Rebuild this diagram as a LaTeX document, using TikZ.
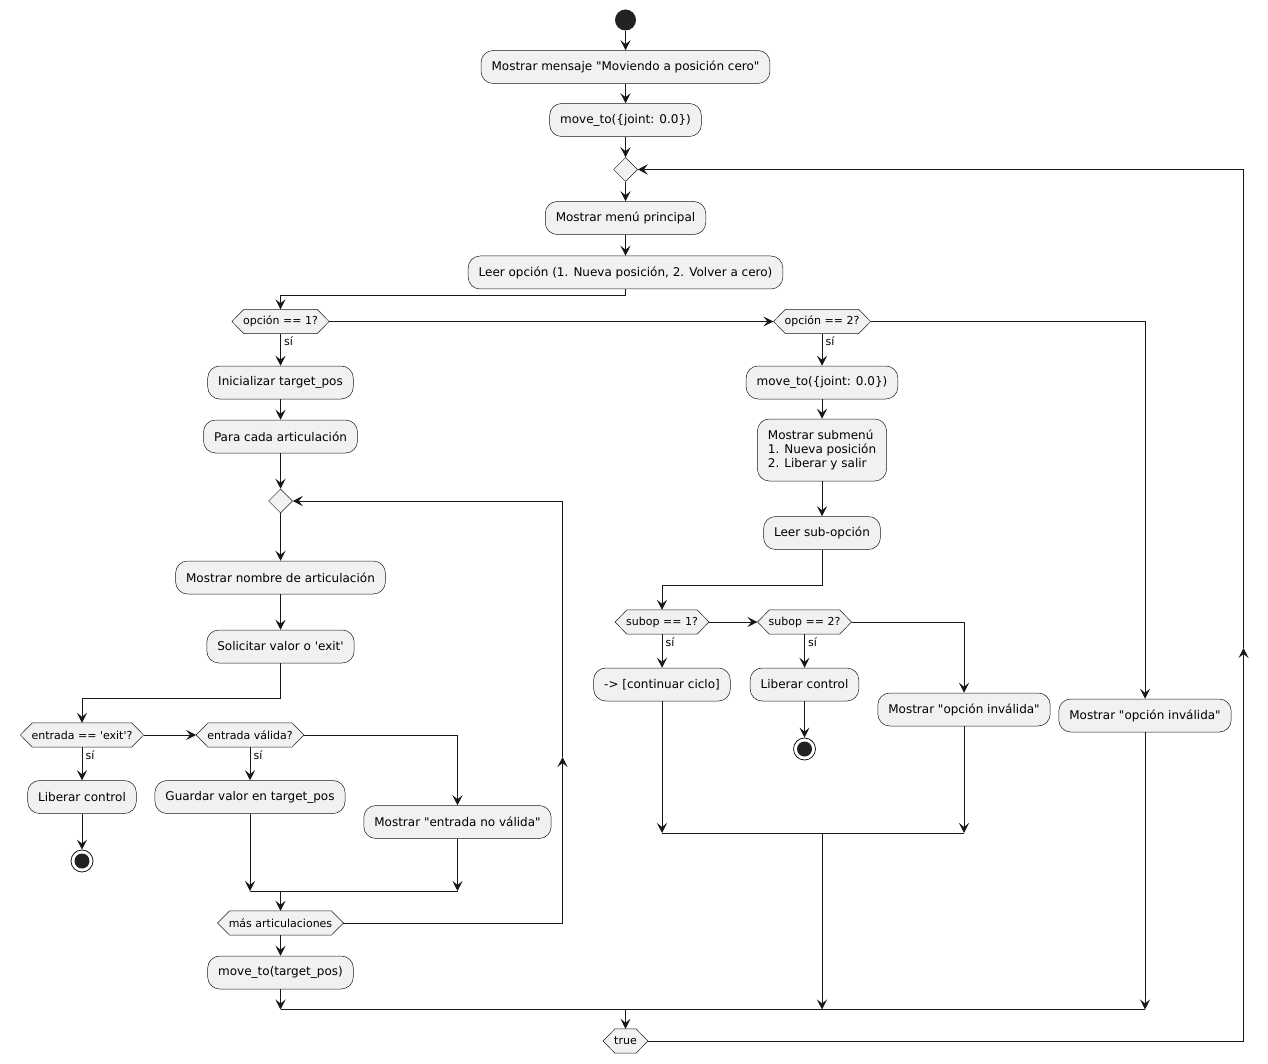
\documentclass[tikz,border=0pt]{standalone}
\usepackage{fontspec}
\setmainfont{DejaVu Sans}[Ligatures=TeXOff]
\usetikzlibrary{arrows.meta,shapes.geometric,backgrounds,calc}
\definecolor{boxfill}{HTML}{F1F1F1}
\definecolor{ink}{HTML}{181818}
\definecolor{dot}{HTML}{222222}
\tikzset{
 act/.style={draw=ink, line width=0.5pt, fill=boxfill, rounded corners=12pt, minimum height=33pt, inner xsep=10.5pt, inner ysep=2pt, font=\fontsize{12}{14}\selectfont},
 hexn/.style={minimum height=24pt, inner xsep=11pt, inner ysep=0pt, font=\fontsize{11}{13}\selectfont},
 hexline/.style={draw=ink, line width=0.5pt, fill=boxfill},
 merge/.style={diamond, draw=ink, line width=0.5pt, fill=boxfill, minimum width=24pt, minimum height=24pt, inner sep=0pt},
 stopn/.style={circle, draw=ink, line width=0.8pt, fill=white, minimum size=22pt, inner sep=0pt, path picture={\fill[dot] (path picture bounding box.center) circle (7.5pt);}},
 conn/.style={draw=ink, line width=1pt},
 arr/.style={conn, -{Stealth[length=10pt,width=10pt,inset=4pt]}},
 yes/.style={font=\fontsize{11}{13}\selectfont, anchor=west, inner sep=0pt},
}
\newcommand\hexpath[1]{\path[hexline] ([xshift=12pt]#1.north west) -- ([xshift=-12pt]#1.north east) -- (#1.east) -- ([xshift=-12pt]#1.south east) -- ([xshift=12pt]#1.south west) -- (#1.west) -- cycle;}
\begin{document}
\begin{tikzpicture}[x=1pt,y=-1pt]
\useasboundingbox (0,0) rectangle (1268,1064);
% nodes
\node[circle, fill=dot, minimum size=21pt, inner sep=0pt] (start) at (625.5,20) {};
\node[act] (b1) at (625.5,67) {Mostrar mensaje "Moviendo a posición cero"};
\node[act] (b2) at (625.5,120) {move\_to(\{joint: 0.0\})};
\node[merge] (d1) at (625.5,169.5) {};
\node[act] (b3) at (625.5,218) {Mostrar menú principal};
\node[act] (b4) at (625.5,272.5) {Leer opción (1. Nueva posición, 2. Volver a cero)};
\node[hexn] (h1) at (280.5,321.5) {opción == 1?};
\node[hexn] (h2) at (822,321.5) {opción == 2?};
\node[act] (i1) at (280.5,382.5) {Inicializar target\_pos};
\node[act] (i2) at (280.5,436.5) {Para cada articulación};
\node[merge] (d2) at (280.5,501) {};
\node[act] (i3) at (280.5,577.5) {Mostrar nombre de articulación};
\node[act] (i4) at (280.5,646.5) {Solicitar valor o 'exit'};
\node[hexn] (hx) at (82,735) {entrada == 'exit'?};
\node[hexn] (hv) at (250,735) {entrada válida?};
\node[act] (l1) at (82,797) {Liberar control};
\node[stopn] (s1) at (82,861) {};
\node[act] (gv) at (250,797) {Guardar valor en target\_pos};
\node[act] (nv) at (457.5,822) {Mostrar "entrada no válida"};
\node[hexn] (hm) at (280.5,923) {más articulaciones};
\node[act] (mt) at (280.5,972.5) {move\_to(target\_pos)};
\node[act] (r1) at (822,382.5) {move\_to(\{joint: 0.0\})};
\node[act, align=left, minimum height=62pt] (sm) at (822,450) {Mostrar submenú\\1. Nueva posición\\2. Liberar y salir};
\node[act] (ls) at (822,533) {Leer sub-opción};
\node[hexn] (q1) at (662,622) {subop == 1?};
\node[hexn] (q2) at (804.5,622) {subop == 2?};
\node[act] (ct) at (662,684.5) {-> [continuar ciclo]};
\node[act] (l2) at (804.5,684.5) {Liberar control};
\node[stopn] (s2) at (804.5,749) {};
\node[act] (v1) at (964,709.5) {Mostrar "opción inválida"};
\node[act] (v2) at (1145,715.5) {Mostrar "opción inválida"};
\node[hexn] (ht) at (625.5,1041) {true};
% hexagon outlines
\begin{scope}[on background layer]
\fill[white] (0,0) rectangle (1268,1064);
\hexpath{h1}\hexpath{h2}\hexpath{hx}\hexpath{hv}\hexpath{hm}\hexpath{q1}\hexpath{q2}\hexpath{ht}
\end{scope}
% labels
\node[yes] (y1) at ($(h1.south)+(3.5,7.5)$) {sí};
\node[yes] (y2) at ($(h2.south)+(3.5,7.5)$) {sí};
\node[yes] (y3) at ($(hx.south)+(3.5,7.5)$) {sí};
\node[yes] (y4) at ($(hv.south)+(3.5,7.5)$) {sí};
\node[yes] (y5) at ($(q1.south)+(3.5,7.5)$) {sí};
\node[yes] (y6) at ($(q2.south)+(3.5,7.5)$) {sí};
% coordinates
\coordinate (ma) at (250,891);
\coordinate (mb) at (457.5,891);
\coordinate (mc) at (280.5,891);
\coordinate (na) at (662,833);
\coordinate (nb) at (964,833);
\coordinate (nc) at (822,833);
\coordinate (ba) at (280.5,1009.5);
\coordinate (bb) at (822,1009.5);
\coordinate (bc) at (1145,1009.5);
\coordinate (bd) at (625.5,1009.5);
\coordinate (cl) at (562.5,757);
\coordinate (cr) at (1243.5,648);
% connectors main column
\draw[arr] (start) -- (b1);
\draw[arr] (b1) -- (b2);
\draw[arr] (b2) -- (d1);
\draw[arr] (d1) -- (b3);
\draw[arr] (b3) -- (b4);
\draw[arr] (b4.south) -- ++(0,6.5) -| (h1.north);
\draw[arr] (h1.east) -- (h2.west);
\draw[arr] (h2.east) -| (v2.north);
% left branch
\draw[arr] (h1.south) -- (i1.north);
\draw[arr] (i1) -- (i2);
\draw[arr] (i2) -- (d2);
\draw[arr] (d2) -- (i3);
\draw[arr] (i3) -- (i4);
\draw[arr] (i4.south) -- ++(0,35) -| (hx.north);
\draw[arr] (hx.east) -- (hv.west);
\draw[arr] (hv.east) -| (nv.north);
\draw[arr] (hx.south) -- (l1.north);
\draw[arr] (l1) -- (s1);
\draw[arr] (hv.south) -- (gv.north);
\draw[arr] (gv.south) -- (ma);
\draw[arr] (nv.south) -- (mb);
\draw[conn] (ma) -- (mb);
\draw[arr] (mc) -- (hm.north);
\draw[arr] (hm.east) -| (cl);
\draw[arr] (cl) |- (d2.east);
\draw[arr] (hm.south) -- (mt.north);
\draw[arr] (mt.south) -- (ba);
% right branch
\draw[arr] (h2.south) -- (r1.north);
\draw[arr] (r1) -- (sm);
\draw[arr] (sm) -- (ls);
\draw[arr] (ls.south) -- ++(0,36) -| (q1.north);
\draw[arr] (q1.east) -- (q2.west);
\draw[arr] (q2.east) -| (v1.north);
\draw[arr] (q1.south) -- (ct.north);
\draw[arr] (q2.south) -- (l2.north);
\draw[arr] (l2) -- (s2);
\draw[arr] (ct.south) -- (na);
\draw[arr] (v1.south) -- (nb);
\draw[conn] (na) -- (nb);
\draw[arr] (nc) -- (bb);
\draw[arr] (v2.south) -- (bc);
% bottom merge and loop
\draw[conn] (ba) -- (bc);
\draw[arr] (bd) -- (ht.north);
\draw[arr] (ht.east) -| (cr);
\draw[arr] (cr) |- (d1.east);
\end{tikzpicture}
\end{document}
